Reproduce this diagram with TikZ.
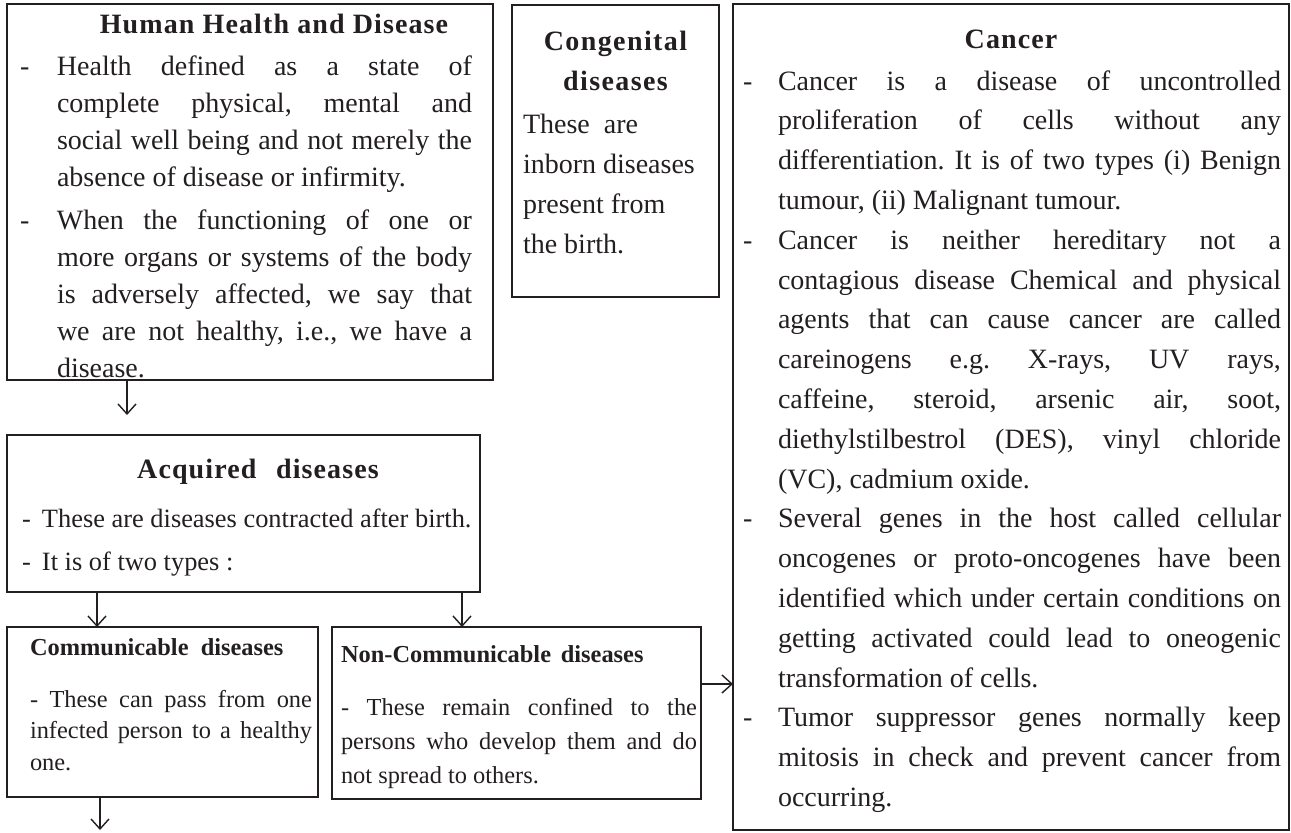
\documentclass[tikz,border=0pt]{standalone}
\usepackage{fontspec}
\setmainfont{Liberation Serif}
\usetikzlibrary{arrows.meta, positioning}
\definecolor{ink}{RGB}{35,31,32}
\newdimen\pxu \pxu=0.5pt
\newcommand\margins[2]{\parindent=0pt\leftskip=#1\pxu\rightskip=#2\pxu\spaceskip=0pt\xspaceskip=0pt\relax\frenchspacing}
\newcommand\heading[2]{{\centering\bfseries\addfontfeature{LetterSpace=4}\hspace*{#1pt}#2\par}}
\newcommand\dashitem[2]{\hangindent=#1\pxu\hangafter=1\noindent\makebox[#1\pxu][l]{-}#2\par}

\tikzset{
  panel/.style={draw=ink, line width=1.3pt, inner sep=0pt, outer sep=0pt, anchor=north west, text=ink},
  link/.style={draw=ink, line width=0.7pt, -{Straight Barb[length=5pt, width=9pt]}},
}

\begin{document}
\begin{tikzpicture}[x=0.5pt, y=-0.5pt]
\useasboundingbox (0,0) rectangle (1291,832);

% boxes
\node[panel, text width=243pt, text height=14.5pt, text depth=173.5pt,
      font=\fontsize{14pt}{18.5pt}\selectfont] (health) at (7,4) {\margins{13}{21}%
  \heading{24}{Human Health and Disease}\vspace{2.5pt}
  \dashitem{37}{Health defined as a state of\linebreak complete physical, mental and\linebreak social well being and not merely the\linebreak absence of disease or infirmity.}\vspace{3pt}
  \dashitem{37}{When the functioning of one or\linebreak more organs or systems of the body\linebreak is adversely affected, we say that\linebreak we are not healthy, i.e., we have a\linebreak disease.}};

\node[panel, text width=103.5pt, text height=22.5pt, text depth=123.5pt,
      font=\fontsize{14pt}{20pt}\selectfont] (congenital) at (512,5) {\margins{11}{14}%
  {\centering\bfseries\addfontfeature{LetterSpace=5}Congenital\\ diseases\par}\vspace{1.5pt}
  These\ \ are\\ inborn diseases\\ present from\\ the birth.\par};

\node[panel, text width=278pt, text height=22pt, text depth=391pt,
      font=\fontsize{14pt}{19.9pt}\selectfont] (cancer) at (733,4) {\margins{10}{8}%
  \heading{0}{Cancer}\vspace{1.1pt}
  \dashitem{35}{Cancer is a disease of uncontrolled\linebreak proliferation of cells without any\linebreak differentiation. It is of two types (i) Benign\linebreak tumour, (ii) Malignant tumour.}
  \dashitem{35}{Cancer is neither hereditary not a\linebreak contagious disease Chemical and physical\linebreak agents that can cause cancer are called\linebreak careinogens e.g. X-rays, UV rays,\linebreak caffeine, steroid, arsenic air, soot,\linebreak diethylstilbestrol (DES), vinyl chloride\linebreak (VC), cadmium oxide.}
  \dashitem{35}{Several genes in the host called cellular\linebreak oncogenes or proto-oncogenes have been\linebreak identified which under certain conditions on\linebreak getting activated could lead to oneogenic\linebreak transformation of cells.}
  \dashitem{35}{Tumor suppressor genes normally keep\linebreak mitosis in check and prevent cancer from\linebreak occurring.}};

\node[panel, text width=236.5pt, text height=21.5pt, text depth=57pt,
      font=\fontsize{13.2pt}{21.5pt}\selectfont] (acquired) at (7,435) {\margins{15}{4}%
  {\fontsize{14pt}{21.5pt}\selectfont\heading{14.5}{Acquired\hspace{0.7em}diseases}}\vspace{3pt}
  \dashitem{20}{These are diseases contracted after birth.}
  \dashitem{20}{It is of two types :}};

\node[panel, text width=155.5pt, text height=14pt, text depth=71pt,
      font=\fontsize{12.2pt}{15.75pt}\selectfont] (commun) at (7,627) {\margins{23}{6}%
  {\bfseries Communicable\hspace{0.5em}diseases\par}\vspace{10.25pt}
  - These can pass from one\linebreak infected person to a healthy\linebreak one.\par};

\node[panel, text width=184.5pt, text height=17.5pt, text depth=68.5pt,
      font=\fontsize{12.2pt}{17pt}\selectfont] (noncommun) at (332,627) {\margins{9}{4}%
  {\bfseries Non-Communicable\hspace{0.4em}diseases\par}\vspace{9.5pt}
  - These remain confined to the\linebreak persons who develop them and do\linebreak not spread to others.\par};

% connectors
\coordinate[below=16.5pt of commun.south west, xshift=46.5pt] (onward);
\draw[link, shorten >=10pt] ([xshift=60pt]health.south west) -- ([xshift=60pt]acquired.north west);
\draw[link] ([xshift=45pt]acquired.south west) -- ([xshift=45pt]commun.north west);
\draw[link] ([xshift=227.5pt]acquired.south west) -- ([xshift=65pt]noncommun.north west);
\draw[link] (commun.south west -| onward) -- (onward);
\draw[link] ([yshift=14.5pt]noncommun.east) -- ([yshift=14.5pt]noncommun.east -| cancer.west);
\end{tikzpicture}
\end{document}
